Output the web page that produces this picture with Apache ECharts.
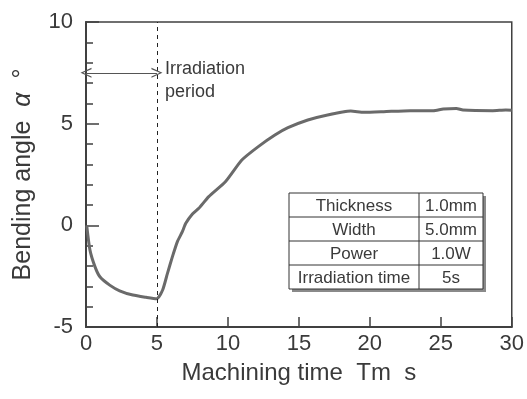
<!DOCTYPE html>
<html>
<head>
<meta charset="utf-8">
<script src="https://cdn.jsdelivr.net/npm/echarts@6/dist/echarts.min.js"></script>
<style>
  html, body { margin: 0; padding: 0; background: #fff; }
  #chart { width: 527px; height: 399px; }
</style>
</head>
<body>
<div id="chart"></div>
<script>
// Machining time (s)
var timeValues = [0.05, 0.28, 0.63, 0.98, 1.67, 2.37, 3.3, 4.23, 4.98, 5.4, 5.74, 6.09, 6.44, 6.79, 7.03, 7.5, 7.95, 8.65, 9.82, 10.98, 12.14, 13.31, 14.23, 15.63, 17.02, 18.65, 19.58, 20.98, 22.84, 24.47, 25.17, 26.1, 26.56, 28.66, 29.58, 30];
// Bending angle (deg)
var angleValues = [0.0, -1.22, -2.03, -2.53, -2.94, -3.22, -3.43, -3.54, -3.61, -3.18, -2.36, -1.54, -0.8, -0.31, 0.1, 0.56, 0.84, 1.41, 2.14, 3.21, 3.87, 4.44, 4.8, 5.18, 5.43, 5.62, 5.56, 5.59, 5.64, 5.64, 5.72, 5.75, 5.67, 5.64, 5.67, 5.66];
var xTicks = [0, 5, 10, 15, 20, 25, 30];
var yTicks = [-5, 0, 5, 10];
var irradiationEnd = 5;
var arrowLevel = 7.5;
var tableLabels = ['Thickness', 'Width', 'Power', 'Irradiation time'];
var tableValues = ['1.0mm', '5.0mm', '1.0W', '5s'];

var FONT = '"Liberation Sans", Arial, sans-serif';
var TXT = '#3a3a3a';
var AX = '#404040';

var chart = echarts.init(document.getElementById('chart'), null, {renderer: 'canvas'});

// table graphic
var tL = 289, tT = 193, tW = 194, rowH = 24, divX = 419;
var tH = rowH * tableLabels.length;
var tableChildren = [
  {type: 'rect', shape: {x: tL + 3, y: tT + 3, width: tW, height: tH}, style: {fill: '#8a8a8a'}},
  {type: 'rect', shape: {x: tL, y: tT, width: tW, height: tH}, style: {fill: '#fff', stroke: '#333', lineWidth: 1}},
  {type: 'line', shape: {x1: divX, y1: tT, x2: divX, y2: tT + tH}, style: {stroke: '#333', lineWidth: 1}}
];
for (var r = 0; r < tableLabels.length; r++) {
  if (r > 0) {
    tableChildren.push({type: 'line', shape: {x1: tL, y1: tT + r * rowH, x2: tL + tW, y2: tT + r * rowH}, style: {stroke: '#333', lineWidth: 1}});
  }
  tableChildren.push({type: 'text', style: {text: tableLabels[r], x: (tL + divX) / 2, y: tT + r * rowH + rowH / 2 + 1, textAlign: 'center', textVerticalAlign: 'middle', font: '17px ' + FONT, fill: TXT}});
  tableChildren.push({type: 'text', style: {text: tableValues[r], x: (divX + tL + tW) / 2, y: tT + r * rowH + rowH / 2 + 1, textAlign: 'center', textVerticalAlign: 'middle', font: '17px ' + FONT, fill: TXT}});
}

var seriesData = timeValues.map(function (t, i) { return [t, angleValues[i]]; });
var openArrow = 'path://M0,10 L5,0 L10,10 L8.6,10 L5,2.4 L1.4,10 Z';

chart.setOption({
  animation: false,
  backgroundColor: '#fff',
  grid: {left: 86, right: 11, top: 22, bottom: 72, show: true, borderColor: AX, borderWidth: 1.5, containLabel: false},
  xAxis: {
    type: 'value', min: xTicks[0], max: xTicks[xTicks.length - 1], interval: 5,
    name: 'Machining time  Tm  s', nameLocation: 'middle', nameGap: 34,
    nameTextStyle: {fontFamily: FONT, fontSize: 24, color: TXT},
    axisLine: {onZero: false, lineStyle: {color: AX, width: 2}},
    axisTick: {inside: true, length: 10, lineStyle: {color: AX, width: 1.5}},
    axisLabel: {fontFamily: FONT, fontSize: 22, color: TXT, margin: 6},
    splitLine: {show: false}
  },
  yAxis: {
    type: 'value', min: yTicks[0], max: yTicks[yTicks.length - 1], interval: 5,
    name: 'Bending angle  {a|α}  °', nameLocation: 'middle', nameGap: 50, nameRotate: 90,
    nameTextStyle: {fontFamily: FONT, fontSize: 25, color: TXT, rich: {a: {fontFamily: FONT, fontSize: 25, fontStyle: 'italic', color: TXT}}},
    axisLine: {onZero: false, lineStyle: {color: AX, width: 2}},
    axisTick: {inside: true, length: 13, lineStyle: {color: AX, width: 1.5}},
    minorTick: {show: true, splitNumber: 5, length: 7, lineStyle: {color: AX, width: 1.5}},
    axisLabel: {fontFamily: FONT, fontSize: 22, color: TXT, margin: 13},
    splitLine: {show: false}
  },
  series: [{
    type: 'line', data: seriesData, showSymbol: false, smooth: 0.2,
    lineStyle: {color: '#6a6a6a', width: 3},
    markLine: {
      silent: true, animation: false,
      label: {show: false},
      data: [
        {xAxis: irradiationEnd, symbol: 'none', lineStyle: {type: [4, 4], color: '#222', width: 1}},
        [{coord: [0, arrowLevel], symbol: openArrow, symbolSize: [10, 11], lineStyle: {type: 'solid', color: '#555', width: 1}},
         {coord: [irradiationEnd, arrowLevel], symbol: openArrow, symbolSize: [10, 11]}]
      ],
      symbol: ['none', 'none']
    }
  }],
  graphic: [
    {type: 'text', left: 165, top: 58, style: {text: 'Irradiation\nperiod', font: '18px ' + FONT, fill: TXT, lineHeight: 23}},
    {type: 'group', children: tableChildren}
  ]
});
</script>
</body>
</html>
